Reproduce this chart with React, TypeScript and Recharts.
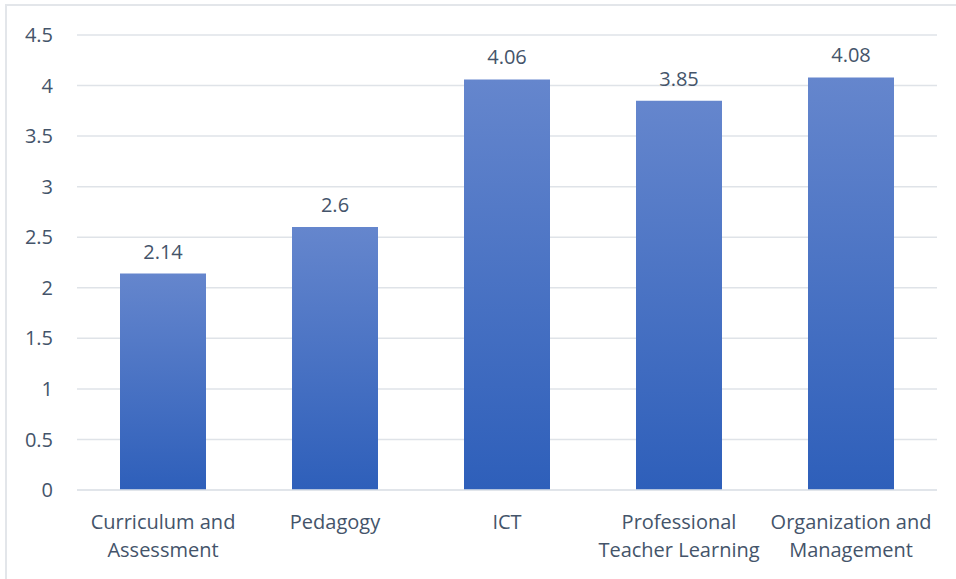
import { Bar, BarChart, CartesianGrid, LabelList, XAxis, YAxis } from "recharts";

const categories = [
  "Curriculum and Assessment",
  "Pedagogy",
  "ICT",
  "Professional Teacher Learning",
  "Organization and Management",
];
const categoryLines = [
  ["Curriculum and", "Assessment"],
  ["Pedagogy"],
  ["ICT"],
  ["Professional", "Teacher Learning"],
  ["Organization and", "Management"],
];
const scores = [2.14, 2.6, 4.06, 3.85, 4.08];
const yTicks = [0, 0.5, 1, 1.5, 2, 2.5, 3, 3.5, 4, 4.5];

const data = categories.map((name, i) => ({ name, score: scores[i] }));

const FONT = "'Open Sans', sans-serif";
const TEXT = "#44546a";

function CategoryTick(props: any) {
  const { x, y, payload } = props;
  const idx = categories.indexOf(payload.value);
  const lines = categoryLines[idx] ?? [payload.value];
  return (
    <text
      x={x}
      y={y}
      textAnchor="middle"
      fill={TEXT}
      fontFamily={FONT}
      fontSize={20}
    >
      {lines.map((l, i) => (
        <tspan key={i} x={x} dy={i === 0 ? 31 : 28}>
          {l}
        </tspan>
      ))}
    </text>
  );
}

export default function App() {
  return (
    <div style={{ position: "absolute", left: 0, top: 0, width: 956, height: 579, overflow: "hidden", background: "#fff" }}>
      <div
        style={{
          position: "absolute",
          left: 5,
          top: 4,
          width: 980,
          height: 600,
          border: "2px solid #e3e6ea",
        }}
      />
      <BarChart
        width={956}
        height={579}
        data={data}
        margin={{ top: 35, right: 19, left: 0, bottom: 0 }}
        barCategoryGap="25%"
        style={{ position: "absolute", left: 0, top: 0 }}
      >
        <defs>
          <linearGradient id="barFill" x1="0" y1="0" x2="0" y2="1">
            <stop offset="0%" stopColor="#6586cd" />
            <stop offset="100%" stopColor="#2e5fba" />
          </linearGradient>
        </defs>
        <CartesianGrid stroke="#dfe3e8" strokeWidth={1.5} vertical={false} />
        <XAxis
          dataKey="name"
          tickLine={false}
          axisLine={{ stroke: "#dfe3e8", strokeWidth: 1.5 }}
          interval={0}
          height={89}
          tick={<CategoryTick />}
        />
        <YAxis
          domain={[0, 4.5]}
          ticks={yTicks}
          tickLine={false}
          axisLine={false}
          width={77}
          tickMargin={18}
          tick={{ fill: TEXT, fontSize: 20, fontFamily: FONT }}
        />
        <Bar dataKey="score" fill="url(#barFill)" isAnimationActive={false}>
          <LabelList
            dataKey="score"
            position="top"
            offset={15}
            fill={TEXT}
            fontSize={20}
            fontFamily={FONT}
          />
        </Bar>
      </BarChart>
    </div>
  );
}
